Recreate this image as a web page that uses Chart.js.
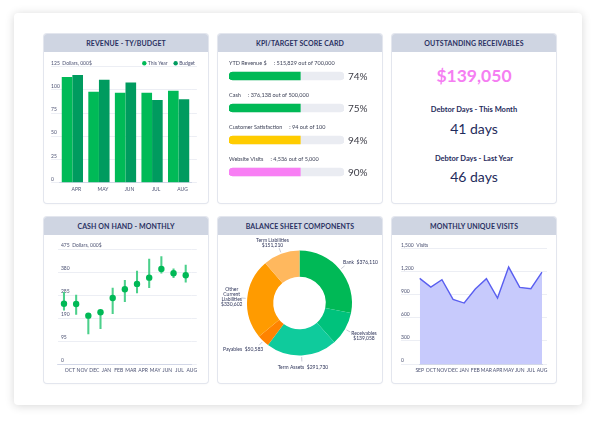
<!DOCTYPE html>
<html>
<head>
<meta charset="utf-8">
<script src="https://cdn.jsdelivr.net/npm/chart.js@4.4.1/dist/chart.umd.min.js"></script>
<style>
  html, body { margin: 0; padding: 0; background: #fff; width: 600px; height: 423px; overflow: hidden; font-family: Lato, sans-serif; }
  #frame { position: absolute; left: 14px; top: 13px; width: 568px; height: 392px; background: #fff; border-radius: 4px; box-shadow: 0 1px 10px rgba(0, 0, 0, 0.16); }
  .panel { position: absolute; width: 164px; background: #fff; border-radius: 3px; box-shadow: 0 0 0 1px #e3e6ee, 0 1px 3px rgba(0, 0, 0, 0.05); }
  .head { position: absolute; left: 0; top: 0; width: 100%; height: 18px; line-height: 18px; background: #cfd5e2; border-radius: 3px 3px 0 0; text-align: center; font-weight: 700; font-size: 7px; color: #2a3162; letter-spacing: 0.1px; }
  .panel canvas { position: absolute; left: 0; top: 18px; }
  .txt { position: absolute; left: 0; width: 100%; text-align: center; color: #1f2b5c; white-space: nowrap; }
</style>
</head>
<body>
<div id="frame"></div>

<div class="panel" style="left:44px;top:34px;height:169px">
  <div class="head">REVENUE - TY/BUDGET</div>
  <canvas id="revenue" width="164" height="150" style="width:164px;height:150px"></canvas>
</div>

<div class="panel" style="left:218px;top:34px;height:169px">
  <div class="head">KPI/TARGET SCORE CARD</div>
  <canvas id="kpi" width="164" height="150" style="width:164px;height:150px"></canvas>
</div>

<div class="panel" style="left:392px;top:34px;height:169px">
  <div class="head">OUTSTANDING RECEIVABLES</div>
  <div class="txt" style="top:32px;font-size:17.5px;line-height:19px;font-weight:700;color:#f57ef2">$139,050</div>
  <div class="txt" style="top:72px;font-size:7.5px;line-height:8px;font-weight:700">Debtor Days - This Month</div>
  <div class="txt" style="top:88px;font-size:14px;line-height:14px">41 days</div>
  <div class="txt" style="top:121px;font-size:7.5px;line-height:8px;font-weight:700">Debtor Days - Last Year</div>
  <div class="txt" style="top:136px;font-size:14px;line-height:14px">46 days</div>
</div>

<div class="panel" style="left:44px;top:217px;height:166px">
  <div class="head">CASH ON HAND - MONTHLY</div>
  <canvas id="cash" width="164" height="147" style="width:164px;height:147px"></canvas>
</div>

<div class="panel" style="left:218px;top:217px;height:166px">
  <div class="head">BALANCE SHEET COMPONENTS</div>
  <canvas id="balance" width="164" height="147" style="width:164px;height:147px"></canvas>
</div>

<div class="panel" style="left:392px;top:217px;height:166px">
  <div class="head">MONTHLY UNIQUE VISITS</div>
  <canvas id="visits" width="164" height="147" style="width:164px;height:147px"></canvas>
</div>

<script>
// revenue this year vs budget, $000
const revenueMonths = ['APR', 'MAY', 'JUN', 'JUL', 'AUG'];
const revenueThisYear = [114, 98, 97, 97, 99];
const revenueBudget = [116, 111, 108, 89, 90];

// kpi score card
const kpiNames = ['YTD Revenue $', 'Cash', 'Customer Satisfaction', 'Website Visits'];
const kpiDetail = [': 515,829 out of 700,000', ': 376,138 out of 500,000', ': 94 out of 100', ': 4,536 out of 5,000'];
const kpiFill = [62, 62, 62, 62];
const kpiPercent = [74, 75, 94, 90];
const kpiColors = ['#00b956', '#00b956', '#ffcc00', '#f87ef4'];

// cash on hand, $000
const cashMonths = ['OCT', 'NOV', 'DEC', 'JAN', 'FEB', 'MAR', 'APR', 'MAY', 'JUN', 'JUL', 'AUG'];
const cashValue = [250, 249, 201, 215, 274, 310, 332, 358, 394, 376, 368];
const cashLow = [224, 206, 125, 147, 209, 259, 295, 317, 376, 358, 339];
const cashHigh = [297, 286, 205, 218, 315, 347, 385, 435, 445, 394, 410];

// balance sheet
const balanceNames = ['Bank  ', 'Receivables\n', 'Term Assets  ', 'Payables  ', 'Other\nCurrent\nLiabilities\n', 'Term Liabilities\n'];
const balanceValues = [376110, 139058, 291730, 50583, 330602, 151210];
const balanceColors = ['#00b956', '#00c27c', '#0fcb9c', '#ff8300', '#ff9b00', '#ffb85e'];

// monthly unique visits
const visitMonths = ['SEP', 'OCT', 'NOV', 'DEC', 'JAN', 'FEB', 'MAR', 'APR', 'MAY', 'JUN', 'JUL', 'AUG'];
const visitCounts = [1114, 1001, 1097, 841, 793, 975, 1110, 858, 1261, 997, 980, 1196];

const GRID = '#e7eaf1';
const AXIS = '#cbd2e4';
const TEXT = '#4b5172';

Chart.defaults.font.family = 'Lato';
Chart.defaults.font.size = 5;
Chart.defaults.color = TEXT;
Chart.defaults.animation = false;
Chart.defaults.responsive = false;
Chart.defaults.plugins.legend.display = false;
Chart.defaults.plugins.tooltip.enabled = false;

function fmt(v) {
  return v.toLocaleString('en-US');
}

// y axis whose labels sit on top of the grid lines, starting labelX px from the plot edge
function leftAxis(max, step, unit, labelX, tickLen) {
  return {
    position: 'left',
    min: 0,
    max: max,
    border: { display: false },
    grid: { color: GRID, lineWidth: 0.8, drawTicks: tickLen > 0, tickLength: tickLen },
    ticks: {
      stepSize: step,
      mirror: true,
      padding: labelX,
      labelOffset: -3.5,
      callback: (v) => (v === max ? fmt(v) + '  ' + unit : fmt(v)),
    },
    afterFit: (scale) => {
      scale.width = 0;
    },
  };
}

function rightAxis(max, step) {
  return {
    position: 'right',
    min: 0,
    max: max,
    border: { display: false },
    grid: { color: GRID, lineWidth: 0.8, drawOnChartArea: false, tickLength: 5 },
    ticks: { display: false, stepSize: step },
    afterFit: (scale) => {
      scale.width = 5;
    },
  };
}

function bottomAxis(shift, offset) {
  return {
    offset: offset,
    border: { color: AXIS, width: 0.8 },
    grid: { display: false, drawTicks: false },
    ticks: { padding: 3.5, labelOffset: shift, maxRotation: 0, autoSkip: false },
    afterFit: (scale) => {
      scale.height = 12;
    },
  };
}

const revenueLegend = {
  id: 'revenueLegend',
  afterDraw(chart) {
    const { ctx, chartArea } = chart;
    const y = chartArea.top - 3.4;
    let x = chartArea.right + 3;
    ctx.save();
    ctx.font = '5px Lato';
    ctx.textBaseline = 'middle';
    ctx.textAlign = 'right';
    for (let i = chart.data.datasets.length - 1; i >= 0; i--) {
      const ds = chart.data.datasets[i];
      ctx.fillStyle = TEXT;
      ctx.fillText(ds.label, x, y);
      x -= ctx.measureText(ds.label).width + 3.5;
      ctx.fillStyle = ds.backgroundColor;
      ctx.beginPath();
      ctx.arc(x, y, 2.2, 0, Math.PI * 2);
      ctx.fill();
      x -= 8;
    }
    ctx.restore();
  },
};

new Chart(document.getElementById('revenue'), {
  type: 'bar',
  data: {
    labels: revenueMonths,
    datasets: [
      { label: 'This Year', data: revenueThisYear, backgroundColor: '#00ba57', yAxisID: 'y' },
      { label: 'Budget', data: revenueBudget, backgroundColor: '#009b5f', yAxisID: 'y' },
    ],
  },
  options: {
    layout: { padding: { left: 15.1, right: 11.1, top: 14.7, bottom: 7.3 } },
    datasets: { bar: { categoryPercentage: 0.8, barPercentage: 1.0 } },
    scales: {
      x: bottomAxis(4, true),
      y: leftAxis(125, 25, 'Dollars, 000$', -8, 8),
      y2: rightAxis(125, 25),
    },
  },
  plugins: [revenueLegend],
});

const kpiText = {
  id: 'kpiText',
  afterDatasetsDraw(chart) {
    const { ctx, chartArea } = chart;
    const bars = chart.getDatasetMeta(1).data;
    ctx.save();
    ctx.textBaseline = 'middle';
    ctx.textAlign = 'left';
    bars.forEach((bar, i) => {
      ctx.fillStyle = '#3a3f55';
      ctx.font = '5.5px Lato';
      ctx.fillText(kpiNames[i] + '     ' + kpiDetail[i], chartArea.left, bar.y - 13);
      ctx.fillStyle = '#3c3c46';
      ctx.font = '10px Lato';
      ctx.fillText(kpiPercent[i] + '%', chartArea.right + 4, bar.y + 0.5);
    });
    ctx.restore();
  },
};

new Chart(document.getElementById('kpi'), {
  type: 'bar',
  data: {
    labels: kpiNames,
    datasets: [
      {
        data: kpiFill,
        backgroundColor: kpiColors,
        borderRadius: 4,
        borderSkipped: 'end',
        barThickness: 8,
        grouped: false,
      },
      {
        data: kpiNames.map(() => 100),
        backgroundColor: '#eaecf2',
        borderRadius: 4,
        borderSkipped: false,
        barThickness: 8,
        grouped: false,
      },
    ],
  },
  options: {
    indexAxis: 'y',
    layout: { padding: { left: 11, right: 38, top: 8, bottom: 14 } },
    scales: {
      x: { display: false, min: 0, max: 100 },
      y: { display: false },
    },
  },
  plugins: [kpiText],
});

new Chart(document.getElementById('cash'), {
  type: 'bar',
  data: {
    labels: cashMonths,
    datasets: [
      {
        type: 'line',
        data: cashValue,
        showLine: false,
        pointRadius: 3.2,
        pointBorderWidth: 0,
        pointBackgroundColor: '#00b956',
        yAxisID: 'y',
      },
      {
        type: 'bar',
        data: cashLow.map((v, i) => [v, cashHigh[i]]),
        backgroundColor: '#4cd08b',
        barThickness: 1.4,
        borderSkipped: false,
        yAxisID: 'y',
      },
    ],
  },
  options: {
    layout: { padding: { left: 13.9, right: 11.2, top: 14.3, bottom: 5.7 } },
    scales: {
      x: bottomAxis(6, true),
      y: leftAxis(475, 95, 'Dollars, 000$', 3, 0),
      y2: rightAxis(475, 95),
    },
  },
});

const donutLabels = {
  id: 'donutLabels',
  afterDraw(chart) {
    const { ctx, width, height } = chart;
    const arcs = chart.getDatasetMeta(0).data;
    ctx.save();
    ctx.font = '5px Lato';
    ctx.textAlign = 'center';
    ctx.textBaseline = 'middle';
    ctx.lineWidth = 0.6;
    ctx.strokeStyle = '#a3a8ba';
    arcs.forEach((arc, i) => {
      const { x, y, startAngle, endAngle, outerRadius } = arc.getProps(['x', 'y', 'startAngle', 'endAngle', 'outerRadius'], true);
      const mid = (startAngle + endAngle) / 2;
      const cos = Math.cos(mid);
      const sin = Math.sin(mid);
      ctx.beginPath();
      ctx.moveTo(x + cos * (outerRadius + 1.5), y + sin * (outerRadius + 1.5));
      ctx.lineTo(x + cos * (outerRadius + 6), y + sin * (outerRadius + 6));
      ctx.stroke();

      const lines = (balanceNames[i] + '$' + fmt(balanceValues[i])).split('\n');
      const w = Math.max(...lines.map((l) => ctx.measureText(l).width));
      const h = lines.length * 5.2;
      let cx = x + cos * (outerRadius + 8) + cos * (w / 2 + 1);
      let cy = y + sin * (outerRadius + 8) + sin * (h / 2 + 1);
      cx = Math.min(Math.max(cx, w / 2 + 3), width - w / 2 - 3);
      cy = Math.min(Math.max(cy, h / 2 + 3), height - h / 2 - 3);
      ctx.fillStyle = '#2f355a';
      lines.forEach((l, k) => {
        ctx.fillText(l, cx, cy - h / 2 + 2.6 + k * 5.2);
      });
    });
    ctx.restore();
  },
};

new Chart(document.getElementById('balance'), {
  type: 'doughnut',
  data: {
    labels: balanceNames,
    datasets: [{ data: balanceValues, backgroundColor: balanceColors, borderWidth: 0 }],
  },
  options: {
    cutout: '50%',
    layout: { padding: { left: 29, right: 30, top: 15.5, bottom: 26.5 } },
  },
  plugins: [donutLabels],
});

new Chart(document.getElementById('visits'), {
  type: 'line',
  data: {
    labels: visitMonths,
    datasets: [
      {
        data: visitCounts,
        borderColor: '#5a5ff0',
        backgroundColor: '#c7cafc',
        fill: 'origin',
        borderWidth: 1.4,
        pointRadius: 0,
        tension: 0,
        yAxisID: 'y',
      },
    ],
  },
  options: {
    layout: { padding: { left: 27.7, right: 9, top: 13.7, bottom: 6 } },
    scales: {
      x: bottomAxis(0, false),
      y: leftAxis(1500, 300, 'Visits', -18.7, 18.7),
      y2: rightAxis(1500, 300),
    },
  },
});
</script>
</body>
</html>
